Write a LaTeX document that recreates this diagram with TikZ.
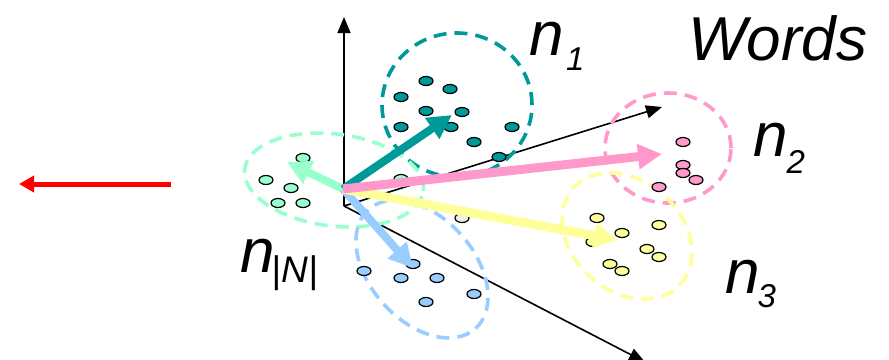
\documentclass[tikz,border=0pt]{standalone}
\usepackage{fontspec}
\setmainfont{Liberation Sans}
\usetikzlibrary{arrows.meta}
\definecolor{tealc}{RGB}{0,153,153}
\definecolor{mintc}{RGB}{153,255,204}
\definecolor{pinkc}{RGB}{255,153,204}
\definecolor{yelc}{RGB}{255,255,153}
\definecolor{bluec}{RGB}{153,204,255}
\definecolor{palec}{RGB}{240,240,232}
\begin{document}
\begin{tikzpicture}[x=1pt,y=-1pt,
  axis/.style={line width=1.6pt,-{Triangle[length=16pt,width=13pt]}},
  vec/.style={line width=8pt,draw=#1,-{Triangle[length=24pt,width=24pt]}},
  cluster/.style={draw=#1,line width=3.6pt,dash pattern=on 13pt off 8pt},
  dotc/.style={draw=black,line width=1.2pt,fill=#1},
  lbl/.style={anchor=base west,inner sep=0pt,font=\fontsize{62}{62}\selectfont\itshape}]
\useasboundingbox (0,0) rectangle (889,359);
% axes
\coordinate (O) at (344,206);
\coordinate (Az) at (344,17);
\coordinate (Ax) at (645,362);
\coordinate (Ay) at (662,107);
\draw[axis] (O) -- (Az);
\draw[axis] (O) -- (Ax);
\draw[axis] (O) -- (Ay);
% clusters
\draw[cluster=tealc] (457,105) ellipse[x radius=75pt,y radius=72pt];
\draw[cluster=mintc,rotate around={-7:(334,180)}] (334,180) ellipse[x radius=90pt,y radius=46pt];
\draw[cluster=bluec,rotate around={-48:(422,269)}] (422,269) ellipse[x radius=80pt,y radius=52pt];
\draw[cluster=pinkc] (668,148) ellipse[x radius=63pt,y radius=55pt];
\draw[cluster=yelc,rotate around={-42:(627,236)}] (627,236) ellipse[x radius=72pt,y radius=55pt];
% dots
\foreach \p in {(426,81),(450,89),(401,97),(426,111),(462,112),(401,127),(451,127),(512,127),(474,142),(499,157)}
  \draw[dotc=tealc] \p ellipse[x radius=7pt,y radius=4.5pt];
\foreach \p in {(303,158),(266,180),(291,188),(278,203),(303,203),(401,179)}
  \draw[dotc=mintc] \p ellipse[x radius=7pt,y radius=4.5pt];
\foreach \p in {(413,264),(364,271),(401,278),(437,278),(474,294),(426,302)}
  \draw[dotc=bluec] \p ellipse[x radius=7pt,y radius=4.5pt];
\foreach \p in {(683,142),(683,165),(683,173),(696,180),(659,187)}
  \draw[dotc=pinkc] \p ellipse[x radius=7pt,y radius=4.5pt];
\foreach \p in {(597,218),(622,233),(659,225),(593,242),(647,249),(659,257),(610,264),(622,271)}
  \draw[dotc=yelc] \p ellipse[x radius=7pt,y radius=4.5pt];
\draw[dotc=palec] (462,218) ellipse[x radius=7pt,y radius=4.5pt];
% vectors
\coordinate (V) at (343,189);
\coordinate (T1) at (452,115);
\coordinate (T2) at (662,154);
\coordinate (T3) at (618,240);
\coordinate (TN) at (413,268);
\coordinate (TM) at (287,162);
\draw[vec=mintc] (V) -- (TM);
\draw[vec=bluec] (V) -- (TN);
\draw[vec=tealc] (V) -- (T1);
\draw[vec=yelc,line width=9pt] (V) -- (T3);
\draw[vec=pinkc,line width=9pt] (V) -- (T2);
% red arrow
\coordinate (R0) at (171,184);
\coordinate (R1) at (19,184);
\draw[red,line width=5pt,-{Triangle[length=15pt,width=16pt]}] (R0) -- (R1);
% labels
\node[lbl] (words) at (688,60) {Words};
\node[lbl] (n1) at (529,55) {n\kern2.5pt\raisebox{-15pt}{\fontsize{33}{33}\selectfont 1}};
\node[lbl] (n2) at (753,156) {n\kern-1pt\raisebox{-17pt}{\fontsize{33}{33}\selectfont 2}};
\node[lbl] (n3) at (725,293) {n\kern-2pt\raisebox{-14pt}{\fontsize{33}{33}\selectfont 3}};
\node[lbl] (nN) at (240,272) {n\kern-3pt\raisebox{-10pt}{\fontsize{37}{37}\selectfont |N|}};
\end{tikzpicture}
\end{document}
